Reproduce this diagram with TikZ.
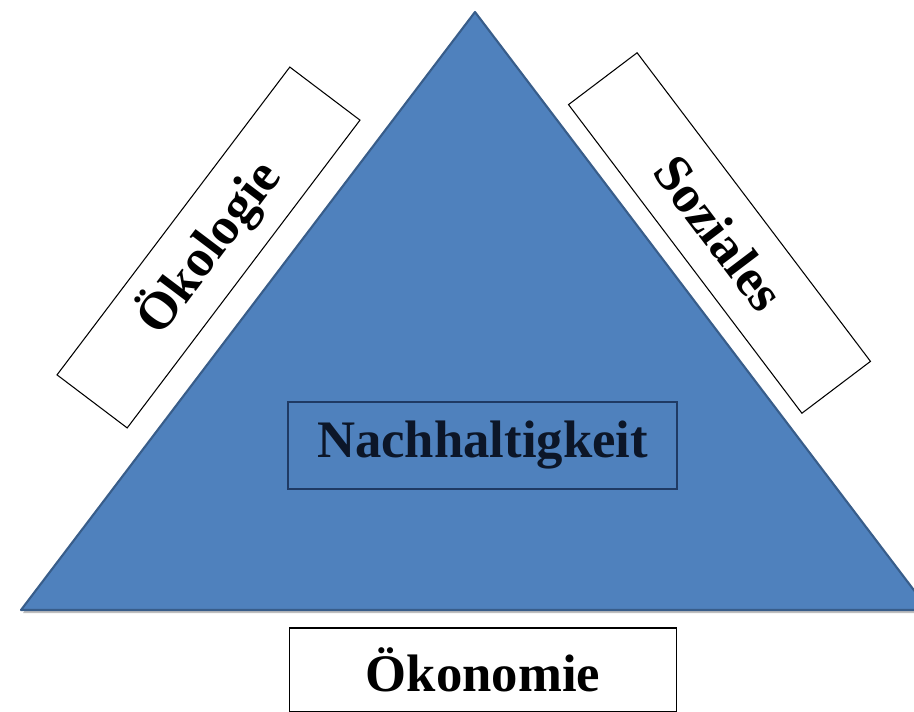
\documentclass[tikz,border=0pt]{standalone}
\usepackage{fontspec}
\setmainfont{Liberation Serif}
\usepackage{tikz}

\definecolor{triblue}{HTML}{4F81BD}
\definecolor{triline}{HTML}{385D8A}
\definecolor{innerline}{HTML}{1F3A64}
\definecolor{innertext}{HTML}{0C1628}

\tikzset{
  sidebox/.style={draw=black,line width=0.6pt,fill=white,inner sep=0pt,
    font=\fontsize{30}{36}\selectfont\bfseries},
  corebox/.style={draw=innerline,line width=0.8pt,fill=triblue,inner sep=0pt,
    text=innertext,font=\fontsize{30}{36}\selectfont\bfseries}
}

\begin{document}
\begin{tikzpicture}[x=0.02cm,y=0.02cm]
\useasboundingbox (0,0) rectangle (914,711);
\clip (0,0) rectangle (914,711);

\coordinate (apex) at (475,699);
\coordinate (left) at (21,101);
\coordinate (right) at (929,101);

% shadow and triangle
\fill[black,opacity=0.25] ([shift={(2,-3)}]apex) -- ([shift={(2,-3)}]left)
  -- ([shift={(2,-3)}]right) -- cycle;
\draw[triline,fill=triblue,line width=1.2pt,line join=round] (apex) -- (left) -- (right) -- cycle;

\node[sidebox,rotate=52.9,minimum width=7.72cm,minimum height=1.76cm] (oeko) at (208.5,463.5) {Ökologie};
\node[sidebox,rotate=-52.9,minimum width=7.74cm,minimum height=1.72cm] (sozial) at (719.5,478) {Soziales};
\node[corebox,minimum width=7.78cm,minimum height=1.74cm] (nach) at (482.5,265.5) {Nachhaltigkeit};
\node[sidebox,minimum width=7.76cm,minimum height=1.68cm] (oekon) at (483,41) {Ökonomie};
\end{tikzpicture}
\end{document}
